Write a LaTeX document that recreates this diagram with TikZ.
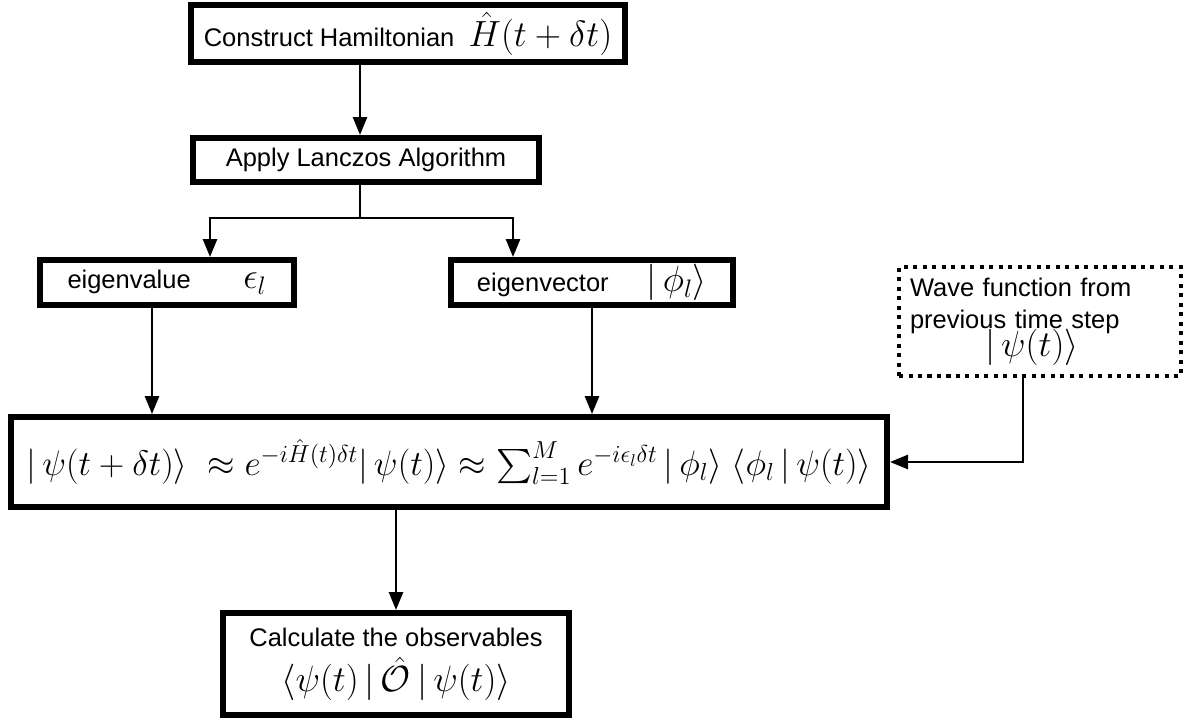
\documentclass[tikz,border=0pt]{standalone}
\usepackage{amsmath,amssymb}
\usepackage{fontspec}
\setmainfont{Liberation Sans}
\usepackage{tikz}
\usetikzlibrary{positioning, arrows.meta, calc}

\newcommand{\txt}{\fontsize{14.5}{18.5}\selectfont}
\newcommand{\mth}[1]{{\fontsize{19.5}{22}\selectfont$#1$}}

\tikzstyle{process} = [rectangle, draw=black, line width=3.4pt, fill=white, text centered, inner sep=2pt, font=\txt]
\tikzstyle{dottedbox} = [rectangle, draw=black, line width=2.3pt, dash pattern=on 2.3pt off 3.1pt, fill=white, align=left, text width=5.2cm, inner sep=2pt, font=\txt]
\tikzstyle{arrow} = [line width=1.5pt, -{Triangle[length=3.6mm, width=2.8mm]}]

\begin{document}
\begin{tikzpicture}
    \useasboundingbox (0,0) rectangle (23.82,-14.44);

    % Main blocks
    \node (hamil) [process, minimum width=8.68cm, minimum height=1.14cm] at (8.16,-0.67) {Construct Hamiltonian\ \ \mth{\hat{H}(t+\delta t)}};
    \node (lanczos) [process, minimum width=6.92cm, minimum height=0.88cm] at (7.32,-3.20) {Apply Lanczos Algorithm};
    \node (eigVal) [process, minimum width=5.08cm, minimum height=0.9cm] at (3.34,-5.65) {eigenvalue\hspace{1.05cm}\mth{\epsilon_l}};
    \node (eigVec) [process, minimum width=5.64cm, minimum height=0.9cm] at (11.84,-5.65) {eigenvector\hspace{0.76cm}\mth{|\,\phi_l\rangle}};
    \node (waveFunc) [dottedbox, minimum width=5.64cm, minimum height=2.18cm] at (20.80,-6.43) {Wave function from\\previous time step\\[-4pt] \hspace*{1.5cm}\mth{|\,\psi(t)\rangle}};
    \node (evolve) [process, minimum width=17.52cm, minimum height=1.8cm] at (8.98,-9.24) {\scalebox{0.97}{\fontsize{20}{24}\selectfont $|\,\psi(t+\delta t)\rangle\;\approx e^{-i\hat{H}(t)\delta t}|\,\psi(t)\rangle\approx \sum_{l=1}^{M} e^{-i\epsilon_l\delta t}\,|\,\phi_l\rangle\;\langle\phi_l\,|\,\psi(t)\rangle$}};
    \node (observ) [process, minimum width=6.92cm, minimum height=2.04cm, align=center] at (7.92,-13.28) {Calculate the observables\\[5pt] \mth{\langle\psi(t)\,|\,\hat{\mathcal{O}}\,|\,\psi(t)\rangle}};

    % Arrows
    \coordinate (split) at ($(lanczos.south)+(-0.12,-0.66)$);
    \draw [arrow] ([xshift=-0.12cm]lanczos.north |- hamil.south) -- ([xshift=-0.12cm]lanczos.north);
    \draw [line width=1.5pt] ([xshift=-0.12cm]lanczos.south) -- (split);
    \draw [arrow] (split) -| ([xshift=0.86cm]eigVal.north);
    \draw [arrow] (split) -| ([xshift=-1.58cm]eigVec.north);
    \draw [arrow] ([xshift=-0.3cm]eigVal.south) -- ([xshift=-0.3cm]eigVal.south |- evolve.north);
    \draw [arrow] (eigVec.south) -- (eigVec.south |- evolve.north);
    \draw [arrow] ([xshift=-0.34cm]waveFunc.south) |- (evolve.east);
    \draw [arrow] (observ.north |- evolve.south) -- (observ.north);

\end{tikzpicture}
\end{document}
